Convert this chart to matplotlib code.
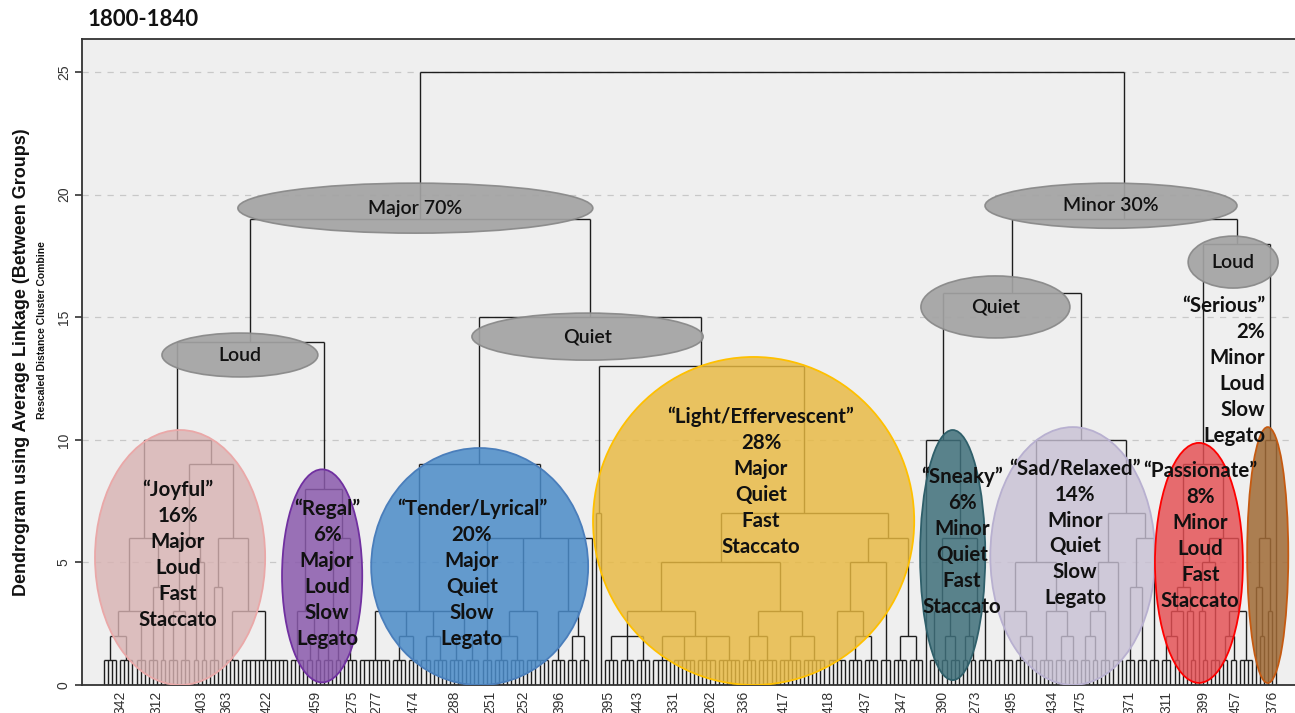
import numpy as np
import matplotlib.pyplot as plt
from matplotlib.patches import Ellipse
from matplotlib.collections import LineCollection

# dendrogram tree: [merge distance, child, child, ...]
# an int n is a bundle of n cases joined at distance 1 (n == 1 is a single case)
joyful = [10, [6, [3, [2, 4, 4], 3], [4, 3, 2]],
          [9, [6, [3, 3, 3], [5, 2, 2]], [6, [4, 3, 1], [3, 4, 12]]]]
regal = [8, [3, 4, [2, 2, 2]], [6, [3, 3, 2], 4]]
tender = [9, [3, 8, [2, 4, 3], [2, 3, 4], [2, 4, 4]],
          [6, 3, [3, [2, 4, 4], 6], [3, 4, [2, 3, 3]], 1]]
light = [13, [7, 1, 1],
         [7, [5, [3, [2, 4, 4, 4], [2, 5, 6, 5, 6]], [3, [2, 4, 5], [2, 6, 6]]],
          [6, [5, [3, 5, [2, 4, 4]], 3], [2, 4, 4]]]]
sneaky = [10, 1, [6, [3, 3, [2, 2, 3]], [3, [2, 2, 2], 4]]]
sad = [10, [5, [3, 5, [2, 3, 3]], [3, 4, [2, 3, 3]]],
       [7, [5, [3, [2, 3, 2], 3], 3], [6, [4, 3, 3], 3]]]
passionate = [9, [4, [3, [2, 3, 2], 1], [3, 1, 2]],
              [6, [5, [3, 1, 2], 3], [3, [2, 2, 2], 4]]]
serious = [10, [6, [4, 1, [2, 1, 1]], [3, 1, 1]], 1]

tree = [25, [19, [14, joyful, regal], [15, tender, light]],
        [19, [16, sneaky, sad], [18, passionate, serious]]]

# case labels shown on the axis (leaf position -> case number)
leaf_pos = [4, 13, 24, 30, 40, 52, 61, 67, 76, 86, 95, 103, 112, 124, 131, 140,
            149, 157, 167, 178, 187, 196, 206, 214, 223, 233, 240, 252, 261, 270, 278, 287]
leaf_text = ['342', '312', '403', '363', '422', '459', '275', '277', '474', '288',
             '251', '252', '396', '395', '443', '331', '262', '336', '417', '418',
             '437', '347', '390', '273', '495', '434', '475', '371', '311', '399',
             '457', '376']

split_labels = ['Major 70%', 'Minor 30%', 'Loud', 'Quiet', 'Quiet', 'Loud']
cluster_labels = ['\u201cJoyful\u201d\n16%\nMajor\nLoud\nFast\nStaccato',
                  '\u201cRegal\u201d\n6%\nMajor\nLoud\nSlow\nLegato',
                  '\u201cTender/Lyrical\u201d\n20%\nMajor\nQuiet\nSlow\nLegato',
                  '\u201cLight/Effervescent\u201d\n28%\nMajor\nQuiet\nFast\nStaccato',
                  '\u201cSneaky\u201d\n6%\nMinor\nQuiet\nFast\nStaccato',
                  '\u201cSad/Relaxed\u201d\n14%\nMinor\nQuiet\nSlow\nLegato',
                  '\u201cPassionate\u201d\n8%\nMinor\nLoud\nFast\nStaccato',
                  '\u201cSerious\u201d\n2%\nMinor\nLoud\nSlow\nLegato']

segs = []
count = [0]


def layout(node):
    if isinstance(node, int):
        x0 = count[0]
        count[0] += node
        if node == 1:
            return x0, 0.0
        xs = np.arange(x0, x0 + node)
        for x in xs:
            segs.append([(x, 0), (x, 1)])
        segs.append([(xs[0], 1), (xs[-1], 1)])
        return xs.mean(), 1.0
    h = node[0]
    kids = [layout(c) for c in node[1:]]
    for x, top in kids:
        segs.append([(x, top), (x, h)])
    segs.append([(kids[0][0], h), (kids[-1][0], h)])
    return (kids[0][0] + kids[-1][0]) / 2, h


layout(tree)

fig = plt.figure(figsize=(12.95, 7.13), dpi=100)
ax = fig.add_axes([0.0633, 0.0393, 0.9367, 0.906])
ax.set_facecolor('#efefef')
ax.set_xlim(-5.4, 292.6)
ax.set_ylim(0, 26.35)

for y in [5, 10, 15, 20, 25]:
    ax.axhline(y, color='#c8c8c8', lw=0.9, ls=(0, (5, 5)), zorder=1)

ax.add_collection(LineCollection(segs, colors='#1e1e1e', linewidths=1.0, zorder=2))

# gray split ellipses
gray = [(76.5, 19.45, 87.2, 2.04), (247.4, 19.55, 61.9, 1.84), (33.4, 13.46, 38.3, 1.79),
        (118.8, 14.21, 56.8, 1.92), (219.0, 15.42, 36.6, 2.53), (277.4, 17.25, 22.1, 2.12)]
for (cx, cy, w, h), lab in zip(gray, split_labels):
    ax.add_patch(Ellipse((cx, cy), w, h, facecolor='#a3a3a3', edgecolor='#888888',
                         lw=1.2, alpha=0.92, zorder=3))
    ax.text(cx, cy, lab, ha='center', va='center', fontsize=14, family='Lato',
            weight='semibold', color='#111111', zorder=5)

# coloured cluster ellipses
shapes = [(18.7, 5.2, 41.8, 10.4), (53.6, 4.45, 19.7, 8.69), (92.3, 4.83, 53.3, 9.67),
          (159.6, 6.69, 78.9, 13.38), (208.5, 5.3, 16.0, 10.2), (238.0, 5.26, 40.5, 10.52),
          (269.0, 4.98, 21.6, 9.79), (285.9, 5.3, 10.1, 10.44)]
fills = ['#d8b2b2', '#8a5aac', '#4a8bc8', '#e8b940', '#3f6f7a', '#c8c0d4', '#e54e52', '#a06a35']
edges = ['#eaa8a8', '#7030a0', '#4a7ebb', '#ffc000', '#2f5f6a', '#b8b0d0', '#ff0000', '#c55a11']
alphas = [0.8, 0.85, 0.85, 0.82, 0.85, 0.8, 0.82, 0.85]
for (cx, cy, w, h), fc, ec, a in zip(shapes, fills, edges, alphas):
    ax.add_patch(Ellipse((cx, cy), w, h, facecolor=fc, edgecolor='none', alpha=a, zorder=3))
    ax.add_patch(Ellipse((cx, cy), w, h, facecolor='none', edgecolor=ec, lw=1.3, zorder=4))

text_pos = [(18.2, 5.3, 'center'), (54.8, 4.53, 'center'), (90.4, 4.53, 'center'),
            (161.4, 8.28, 'center'), (210.8, 5.85, 'center'), (238.6, 6.18, 'center'),
            (269.3, 6.08, 'center'), (285.3, 12.8, 'right')]
for (tx, ty, ha), lab in zip(text_pos, cluster_labels):
    ax.text(tx, ty, lab, ha=ha, va='center', multialignment=ha, fontsize=14.8,
            family='Lato', weight='bold', linespacing=1.37, color='#111111', zorder=5)

ax.set_xticks(leaf_pos)
ax.set_xticklabels(leaf_text, rotation=90, fontsize=10, color='#333333', family='Liberation Sans')
ax.tick_params(axis='x', length=0, pad=4)
ax.set_yticks([0, 5, 10, 15, 20, 25])
ax.set_yticklabels(['0', '5', '10', '15', '20', '25'], rotation=90, va='center',
                   fontsize=10, color='#333333', family='Liberation Sans')
ax.tick_params(axis='y', length=5, width=1.2, color='#333333', pad=3)

for s in ['left', 'top', 'bottom']:
    ax.spines[s].set_color('#333333')
    ax.spines[s].set_linewidth(1.3)
ax.spines['right'].set_visible(False)

fig.text(88 / 1295, 1 - 20 / 713, '1800-1840', fontsize=16, weight='bold',
         family='Lato', va='center', ha='left', color='#111111')
fig.text(22 / 1295, 1 - 362 / 713, 'Dendrogram using Average Linkage (Between Groups)',
         rotation=90, fontsize=13, family='Liberation Sans', weight='bold',
         ha='center', va='center', color='#111111')
fig.text(42 / 1295, 1 - 330 / 713, 'Rescaled Distance Cluster Combine', rotation=90,
         fontsize=7.5, family='Liberation Sans', weight='bold', ha='center', va='center',
         color='#111111')

fig.savefig('out.png', dpi=100)
